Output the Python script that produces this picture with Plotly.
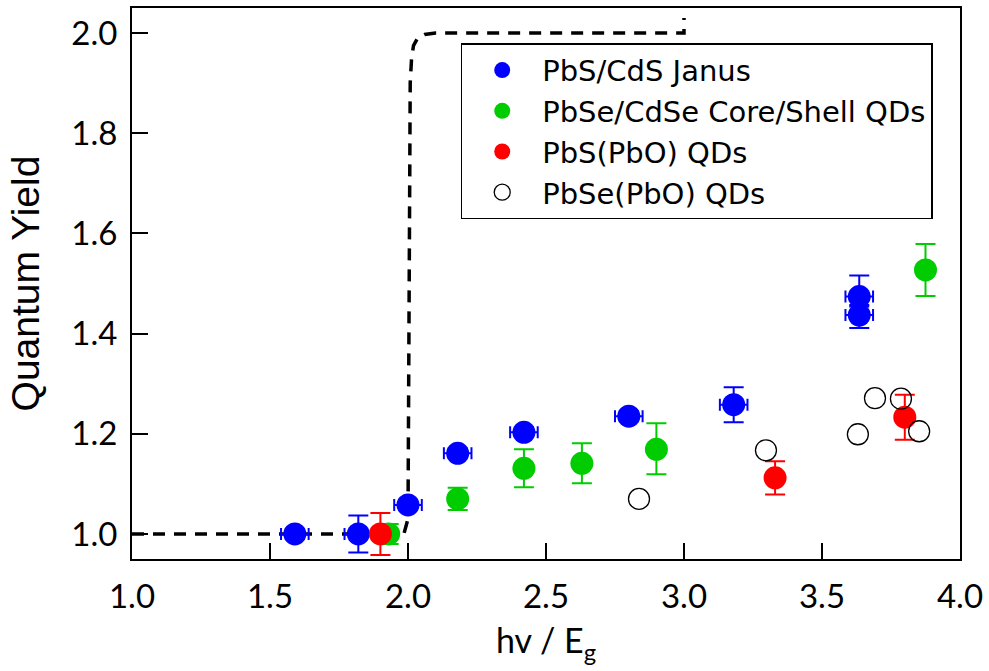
import plotly.graph_objects as go

# ---- data ----
janus_x = [1.59, 1.82, 2.00, 2.18, 2.42, 2.80, 3.18, 3.635, 3.635]
janus_y = [1.00, 1.00, 1.058, 1.161, 1.203, 1.235, 1.258, 1.474, 1.437]
janus_xerr = [0.05, 0.05, 0.05, 0.05, 0.05, 0.05, 0.05, 0.05, 0.05]
janus_yerr_plus = [0.01, 0.037, 0.01, 0.01, 0.01, 0.01, 0.035, 0.042, 0.02]
janus_yerr_minus = [0.01, 0.037, 0.01, 0.01, 0.01, 0.01, 0.035, 0.02, 0.026]

cs_x = [1.93, 2.18, 2.42, 2.63, 2.90, 3.875]
cs_y = [1.00, 1.070, 1.131, 1.141, 1.169, 1.527]
cs_yerr_plus = [0.02, 0.022, 0.038, 0.04, 0.052, 0.052]
cs_yerr_minus = [0.02, 0.022, 0.038, 0.04, 0.050, 0.052]

pbs_x = [1.90, 3.33, 3.80]
pbs_y = [1.00, 1.112, 1.233]
pbs_yerr = [0.042, 0.033, 0.045]

pbse_x = [2.837, 3.297, 3.63, 3.692, 3.786, 3.852]
pbse_y = [1.070, 1.167, 1.199, 1.271, 1.270, 1.205]

# energy-conservation limit (step curve)
limit_x = [1.0, 1.985, 2.0, 2.004, 2.008, 2.013, 2.02, 2.035, 2.06, 2.1, 3.0, 3.0]
limit_y = [1.0, 1.0, 1.03, 1.5, 1.9, 1.95, 1.975, 1.99, 1.997, 2.0, 2.0, 2.03]

x_ticks = [1.0, 1.5, 2.0, 2.5, 3.0, 3.5, 4.0]
y_ticks = [1.0, 1.2, 1.4, 1.6, 1.8, 2.0]

BLUE = "#0000ff"
GREEN = "#00cc00"
RED = "#ff0000"
TICKFONT = "Lato, 'Open Sans', sans-serif"
LEGFONT = "'DejaVu Sans', sans-serif"

fig = go.Figure()

fig.add_trace(go.Scatter(
    x=limit_x, y=limit_y, mode="lines",
    line=dict(color="black", width=3.5, dash="12px,9px"),
    showlegend=False, hoverinfo="skip"))

fig.add_trace(go.Scatter(
    x=janus_x, y=janus_y, mode="markers", name="PbS/CdS Janus",
    marker=dict(color=BLUE, size=23),
    error_x=dict(type="data", array=janus_xerr, color=BLUE, thickness=2, width=6),
    error_y=dict(type="data", array=janus_yerr_plus, arrayminus=janus_yerr_minus,
                 color=BLUE, thickness=2, width=10)))

fig.add_trace(go.Scatter(
    x=cs_x, y=cs_y, mode="markers", name="PbSe/CdSe Core/Shell QDs",
    marker=dict(color=GREEN, size=23),
    error_y=dict(type="data", array=cs_yerr_plus, arrayminus=cs_yerr_minus,
                 color=GREEN, thickness=2, width=10)))

fig.add_trace(go.Scatter(
    x=pbs_x, y=pbs_y, mode="markers", name="PbS(PbO) QDs",
    marker=dict(color=RED, size=23),
    error_y=dict(type="data", array=pbs_yerr, color=RED, thickness=2, width=10)))

fig.add_trace(go.Scatter(
    x=pbse_x, y=pbse_y, mode="markers", name="PbSe(PbO) QDs",
    marker=dict(color="rgba(0,0,0,0)", size=21, line=dict(color="black", width=1.3))))

axis_common = dict(
    showline=True, linecolor="black", linewidth=2, mirror=True,
    ticks="inside", ticklen=16, tickwidth=2, tickcolor="black",
    showgrid=False, zeroline=False,
    tickfont=dict(family=TICKFONT, size=33, color="black"),
)

fig.update_layout(
    width=989, height=671,
    margin=dict(l=132, r=29, t=6, b=112),
    paper_bgcolor="white", plot_bgcolor="white",
    xaxis=dict(range=[1.0, 4.0], tickvals=x_ticks,
               ticktext=[f"{v:.1f}" for v in x_ticks],
               ticklabelstandoff=7,
               title=dict(text="hv / E<sub>g</sub>", standoff=16,
                          font=dict(family=TICKFONT, size=34, color="black")),
               **axis_common),
    yaxis=dict(range=[0.95, 2.05], tickvals=y_ticks,
               ticktext=[f"{v:.1f}" for v in y_ticks],
               ticklabelstandoff=6,
               title=dict(text="Quantum Yield", standoff=20,
                          font=dict(family="Liberation Sans, Arial, sans-serif", size=39, color="black")),
               **axis_common),
    legend=dict(x=0.397, y=0.936, xanchor="left", yanchor="top",
                bordercolor="black", borderwidth=1.5, bgcolor="white",
                font=dict(family=LEGFONT, size=29, color="black"),
                itemsizing="trace", itemwidth=70, tracegroupgap=0),
    showlegend=True,
)

fig.write_html("out.html")
